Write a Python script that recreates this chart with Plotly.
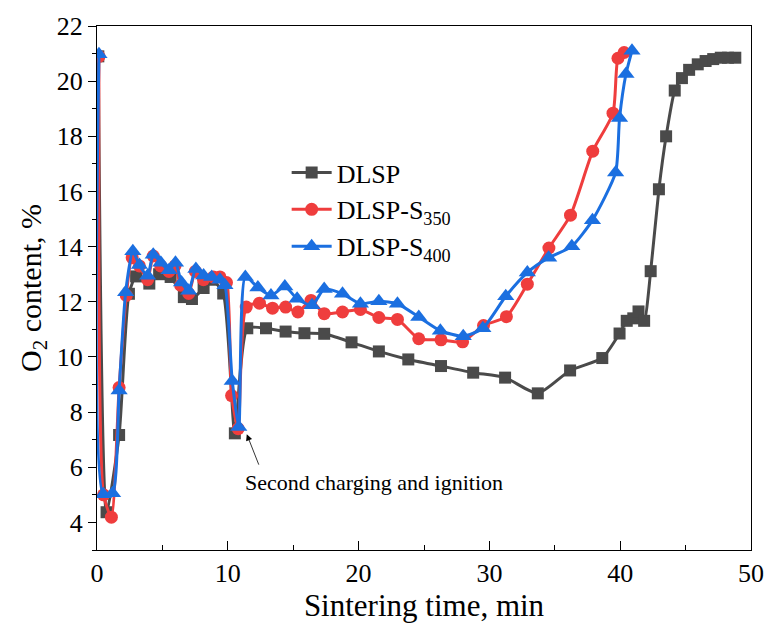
import plotly.graph_objects as go

# ---- data ----
dlsp_t = [0.1, 0.73, 1.69, 2.44, 2.99, 4.0, 4.75, 5.63, 6.64, 7.26, 8.15, 8.77, 9.65,
          10.54, 11.49, 12.92, 14.42, 15.86, 17.37, 19.46, 21.55, 23.8, 26.3, 28.76,
          31.2, 33.7, 36.17, 38.63, 39.95, 40.5, 41.0, 41.4, 41.83, 42.33, 42.96,
          43.51, 44.17, 44.72, 45.27, 45.93, 46.53, 47.11, 47.69, 48.24, 48.8]
dlsp_v = [20.9, 4.37, 7.17, 12.29, 12.92, 12.66, 13.0, 12.9, 12.17, 12.1, 12.5, 12.8, 12.3,
          7.23, 11.04, 11.04, 10.92, 10.86, 10.84, 10.53, 10.2, 9.91, 9.67, 9.43,
          9.25, 8.68, 9.51, 9.96, 10.85, 11.31, 11.4, 11.65, 11.31, 13.11, 16.08,
          18.0, 19.66, 20.11, 20.41, 20.61, 20.73, 20.8, 20.85, 20.85, 20.85]

s350_t = [0.15, 0.5, 1.1, 1.69, 2.24, 2.69, 3.24, 3.87, 4.3, 4.87, 5.5, 5.96, 6.39,
          7.01, 7.52, 8.14, 8.9, 9.4, 9.9, 10.29, 10.79, 11.41, 12.42, 13.42, 14.42,
          15.36, 16.36, 17.37, 18.77, 20.14, 21.55, 22.97, 24.6, 26.3, 27.95, 29.55,
          31.3, 32.9, 34.55, 36.2, 37.9, 39.45, 39.83, 40.3]
s350_v = [20.9, 5.0, 4.19, 8.89, 12.23, 13.6, 13.3, 12.8, 13.66, 13.3, 13.1, 13.3, 12.6,
          12.3, 13.1, 12.8, 12.9, 12.9, 12.7, 8.6, 7.4, 11.81, 11.95, 11.77, 11.81,
          11.63, 12.05, 11.57, 11.63, 11.72, 11.43, 11.36, 10.66, 10.62, 10.55, 11.14,
          11.46, 12.64, 13.95, 15.14, 17.46, 18.84, 20.83, 21.04]

s400_t = [0.15, 0.48, 1.19, 1.69, 2.19, 2.74, 3.24, 3.87, 4.3, 4.88, 5.5, 6.0, 6.46,
          7.01, 7.56, 8.15, 8.77, 9.4, 9.78, 10.34, 10.84, 11.34, 12.3, 13.3, 14.36,
          15.3, 16.44, 17.37, 18.77, 20.14, 21.55, 22.97, 24.6, 26.25, 28.0, 29.5,
          31.25, 32.9, 34.53, 36.3, 37.88, 39.65, 39.95, 40.44, 40.9]
s400_v = [20.98, 5.02, 5.06, 8.78, 12.35, 13.83, 13.33, 12.94, 13.71, 13.42, 13.14, 13.42, 12.7,
          12.4, 13.19, 12.95, 12.9, 12.8, 12.6, 9.13, 7.46, 12.9, 12.52, 12.23, 12.55,
          12.11, 11.87, 12.46, 12.29, 11.93, 12.02, 11.93, 11.45, 10.95, 10.75, 11.04,
          12.2, 13.06, 13.6, 14.01, 14.96, 16.69, 18.66, 20.26, 21.1]

names = ["DLSP", "DLSP-S<sub>350</sub>", "DLSP-S<sub>400</sub>"]
colors = ["#4a4a4a", "#ef3d3d", "#1b6fe0"]
symbols = ["square", "circle", "triangle-up"]
sizes = [12, 13, 15]

annot_text = "Second charging and ignition"
arrow_tip = (11.45, 7.2)
text_pos = (21.2, 5.46)

FONT = "Liberation Serif"

fig = go.Figure()
for t, v, n, c, s, sz in zip([dlsp_t, s350_t, s400_t], [dlsp_v, s350_v, s400_v],
                             names, colors, symbols, sizes):
    fig.add_trace(go.Scatter(
        x=t, y=v, name=n, mode="lines+markers",
        line=dict(color=c, width=3, shape="spline", smoothing=0.6),
        marker=dict(symbol=s, size=sz, color=c),
    ))

fig.add_annotation(x=arrow_tip[0], y=arrow_tip[1], xref="x", yref="y",
                   text=" ", showarrow=True, ax=13, ay=33, axref="pixel", ayref="pixel",
                   arrowhead=2, arrowsize=1.6, arrowwidth=0.8, arrowcolor="black",
                   standoff=0, font=dict(size=2))
fig.add_annotation(x=text_pos[0], y=text_pos[1], xref="x", yref="y",
                   text=annot_text, showarrow=False,
                   font=dict(family=FONT, size=22, color="black"))

fig.update_layout(
    width=776, height=626,
    margin=dict(l=97, r=16, t=24, b=69),
    paper_bgcolor="white", plot_bgcolor="white",
    font=dict(family=FONT, color="black"),
    showlegend=True,
    legend=dict(x=0.29, y=0.765, xanchor="left", yanchor="top",
                font=dict(family=FONT, size=26, color="black"),
                bgcolor="rgba(0,0,0,0)", itemwidth=40, tracegroupgap=0),
    xaxis=dict(range=[0, 50], dtick=10, tick0=0, showgrid=False, zeroline=False,
               showline=True, linecolor="black", linewidth=1.3, mirror=True,
               ticks="inside", ticklen=9, tickwidth=1.3, tickcolor="black",
               minor=dict(dtick=5, ticks="inside", ticklen=5, tickwidth=1.3, tickcolor="black"),
               tickfont=dict(family=FONT, size=26, color="black"),
               title=dict(text="Sintering time, min", font=dict(family=FONT, size=31, color="black"),
                          standoff=4)),
    yaxis=dict(range=[3, 22], dtick=2, tick0=0, showgrid=False, zeroline=False,
               showline=True, linecolor="black", linewidth=1.3, mirror=True,
               ticks="outside", ticklen=8, tickwidth=1.3, tickcolor="black",
               minor=dict(dtick=1, ticks="outside", ticklen=4, tickwidth=1.3, tickcolor="black"),
               tickfont=dict(family=FONT, size=26, color="black"),
               title=dict(text="O<sub>2</sub> content, %", font=dict(family=FONT, size=30, color="black"),
                          standoff=6)),
)

fig.write_html("out.html")
